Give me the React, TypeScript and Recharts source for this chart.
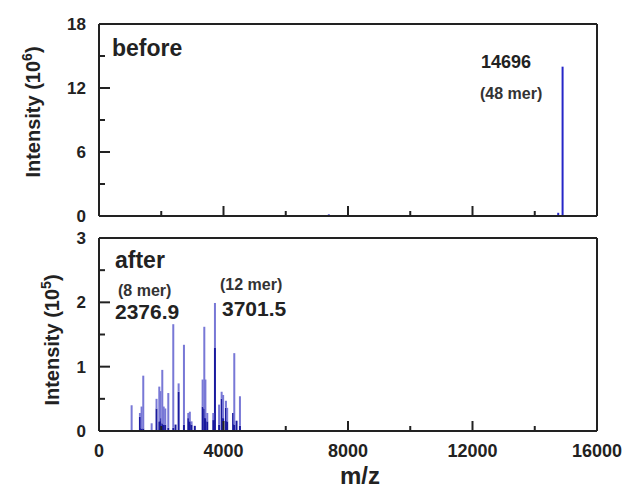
import React from 'react';
import { BarChart, Bar, XAxis, YAxis, ReferenceLine } from 'recharts';

// x axis (m/z)
const xTicks = [0, 2000, 4000, 6000, 8000, 10000, 12000, 14000, 16000];
const xLabels = ['0', '', '4000', '', '8000', '', '12000', '', '16000'];

// top panel: before, intensity in 10^6
const beforeTicks = [0, 3, 6, 9, 12, 15, 18];
const beforeLabels = ['0', '', '6', '', '12', '', '18'];
const beforeMz = [7390, 14760, 14900];
const beforeIntensity = [0.15, 0.3, 14.0];

// bottom panel: after, intensity in 10^5
const afterTicks = [0, 0.5, 1, 1.5, 2, 2.5, 3];
const afterLabels = ['0', '', '1', '', '2', '', '3'];
const afterMz = [
  1050, 1317, 1370, 1424, 1693, 1850, 1939, 1975, 2035, 2080, 2130, 2228,
  2388, 2460, 2560, 2731, 2870, 2920, 2975, 3080, 3331, 3385, 3420, 3480,
  3673, 3727, 3860, 3942, 3990, 4080, 4120, 4310, 4348, 4420, 4530,
];
const afterIntensity = [
  0.40, 0.28, 0.38, 0.86, 0.12, 0.50, 0.69, 0.62, 0.95, 0.38, 0.35, 0.59,
  1.66, 0.10, 0.74, 1.34, 0.28, 0.30, 0.15, 0.08, 0.80, 1.62, 0.80, 0.28,
  0.28, 1.99, 0.41, 0.61, 0.56, 0.47, 0.36, 0.28, 1.21, 0.16, 0.54,
];
// darker overlapping part at the base of each stick
const afterDark = [
  0.0, 0.22, 0.04, 0.04, 0.0, 0.35, 0.15, 0.2, 0.12, 0.1, 0.1, 0.05,
  0.05, 0.1, 0.61, 0.1, 0.2, 0.15, 0.1, 0.08, 0.38, 0.35, 0.2, 0.15,
  0.17, 1.29, 0.1, 0.5, 0.2, 0.36, 0.15, 0.28, 0.1, 0.16, 0.08,
];

const beforeData = beforeMz.map((mz, i) => ({ mz, h: beforeIntensity[i] }));
const afterData = afterMz.map((mz, i) => ({
  mz,
  dark: afterDark[i],
  light: afterIntensity[i] - afterDark[i],
}));

const FONT = "Arial, 'Liberation Sans', Helvetica, sans-serif";
const AXIS = '#222';

// thin stick centred on the bar's slot, whatever width recharts gives it
const Stick = (p: any) => {
  if (!p.height) return null;
  return <rect x={p.x + p.width / 2 - 1} y={p.y} width={2} height={p.height} fill={p.fill} />;
};

const YTick = ({ x, y, payload, ticks, labels }: any) => {
  const label = labels[ticks.indexOf(payload.value)];
  const len = label ? 11 : 6;
  return (
    <g>
      <line x1={x} x2={x + len} y1={y} y2={y} stroke={AXIS} strokeWidth={2} />
      {label && (
        <text x={x - 13} y={y + 6} textAnchor="end" fontSize={17} fontWeight="bold" fill="#222" fontFamily={FONT}>
          {label}
        </text>
      )}
    </g>
  );
};

const XTick = ({ x, y, payload, showLabels }: any) => {
  const label = xLabels[xTicks.indexOf(payload.value)];
  const len = label ? 10 : 5;
  return (
    <g>
      <line x1={x} x2={x} y1={y} y2={y - len} stroke={AXIS} strokeWidth={2} />
      {showLabels && label && (
        <text x={x} y={y + 26} textAnchor="middle" fontSize={18} fontWeight="bold" fill="#222" fontFamily={FONT}>
          {label}
        </text>
      )}
    </g>
  );
};

const App = () => {
  return (
    <div style={{ position: 'absolute', left: 0, top: 0, width: 628, height: 492, background: '#fff' }}>
      <div style={{ position: 'absolute', left: 0, top: 0 }}>
        <BarChart width={628} height={230} data={beforeData} margin={{ top: 24, right: 31, left: 0, bottom: 0 }}>
          <XAxis
            dataKey="mz"
            type="number"
            domain={[0, 16000]}
            ticks={xTicks}
            height={14}
            tickSize={0}
            tickMargin={0}
            axisLine={{ stroke: AXIS, strokeWidth: 2 }}
            tickLine={false}
            tick={(p: any) => <XTick {...p} showLabels={false} />}
          />
          <YAxis
            type="number"
            domain={[0, 18]}
            ticks={beforeTicks}
            width={99}
            tickSize={0}
            tickMargin={0}
            allowDataOverflow
            axisLine={{ stroke: AXIS, strokeWidth: 2 }}
            tickLine={false}
            tick={(p: any) => <YTick {...p} ticks={beforeTicks} labels={beforeLabels} />}
          />
          <ReferenceLine y={18} stroke={AXIS} strokeWidth={2} />
          <ReferenceLine x={16000} stroke={AXIS} strokeWidth={2} />
          <Bar dataKey="h" fill="#2626c8" barSize={2} shape={<Stick />} isAnimationActive={false} />
        </BarChart>
      </div>
      <div style={{ position: 'absolute', left: 0, top: 220 }}>
        <BarChart width={628} height={272} data={afterData} margin={{ top: 18, right: 31, left: 0, bottom: 0 }}>
          <XAxis
            dataKey="mz"
            type="number"
            domain={[0, 16000]}
            ticks={xTicks}
            height={61}
            tickSize={0}
            tickMargin={0}
            axisLine={{ stroke: AXIS, strokeWidth: 2 }}
            tickLine={false}
            tick={(p: any) => <XTick {...p} showLabels />}
          />
          <YAxis
            type="number"
            domain={[0, 3]}
            ticks={afterTicks}
            width={99}
            tickSize={0}
            tickMargin={0}
            allowDataOverflow
            axisLine={{ stroke: AXIS, strokeWidth: 2 }}
            tickLine={false}
            tick={(p: any) => <YTick {...p} ticks={afterTicks} labels={afterLabels} />}
          />
          <ReferenceLine y={3} stroke={AXIS} strokeWidth={2} />
          <ReferenceLine x={16000} stroke={AXIS} strokeWidth={2} />
          <Bar dataKey="dark" stackId="s" fill="#1a1a9e" barSize={2} shape={<Stick />} isAnimationActive={false} />
          <Bar dataKey="light" stackId="s" fill="#7878d6" barSize={2} shape={<Stick />} isAnimationActive={false} />
        </BarChart>
      </div>
      <svg
        width={628}
        height={492}
        style={{ position: 'absolute', left: 0, top: 0, pointerEvents: 'none' }}
        fontFamily={FONT}
        fontWeight="bold"
        fill="#222"
      >
        <text x={112} y={56} fontSize={23}>before</text>
        <text x={481} y={68} fontSize={18}>14696</text>
        <text x={480} y={99} fontSize={16} fill="#333">(48 mer)</text>
        <text x={115} y={268} fontSize={23}>after</text>
        <text x={118} y={296} fontSize={16} fill="#333">(8 mer)</text>
        <text x={115} y={319} fontSize={21}>2376.9</text>
        <text x={220} y={290} fontSize={16} fill="#333">(12 mer)</text>
        <text x={222} y={316} fontSize={21}>3701.5</text>
        <text x={360} y={484} fontSize={24} textAnchor="middle">m/z</text>
        <text transform="translate(40,112) rotate(-90)" fontSize={20} textAnchor="middle">
          Intensity (10<tspan dy={-8} fontSize={14}>6</tspan><tspan dy={8}>)</tspan>
        </text>
        <text transform="translate(59,340) rotate(-90)" fontSize={20} textAnchor="middle">
          Intensity (10<tspan dy={-8} fontSize={14}>5</tspan><tspan dy={8}>)</tspan>
        </text>
      </svg>
    </div>
  );
};

export default App;
